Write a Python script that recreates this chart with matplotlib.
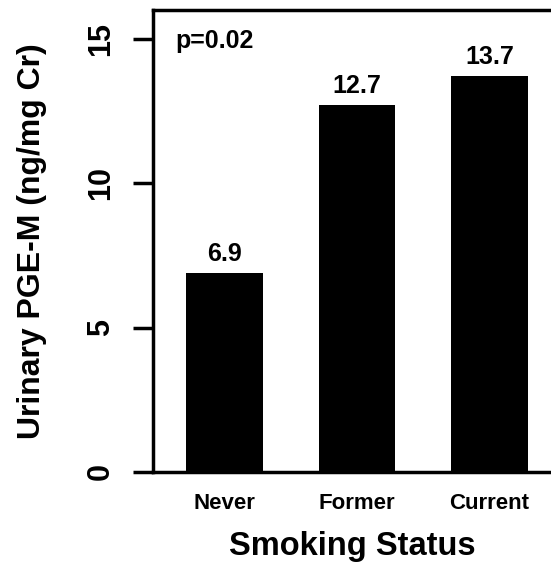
import matplotlib.pyplot as plt

plt.rcParams['font.family'] = ['Liberation Sans', 'DejaVu Sans']
plt.rcParams['font.weight'] = 'bold'

# Urinary PGE-M by smoking status
status = ["Never", "Former", "Current"]
pge_m = [6.9, 12.7, 13.7]
p_text = "p=0.02"

fig = plt.figure(figsize=(5.51, 5.65), dpi=100)
ax = fig.add_axes([153 / 551, 93 / 565, 1 - 153 / 551, 462 / 565])

x = range(len(status))
ax.bar(x, pge_m, width=0.58, color="black")

for xi, v in zip(x, pge_m):
    ax.annotate(f"{v}", (xi, v), xytext=(0, 5), textcoords="offset points",
                ha="center", va="bottom", fontsize=18, fontweight="bold")

ax.text(0.055, 0.918, p_text, transform=ax.transAxes, fontsize=18,
        fontweight="bold", va="baseline", ha="left")

ax.set_xlim(-0.54, 2.464)
ax.set_ylim(0, 16)
ax.set_yticks([0, 5, 10, 15])
ax.set_xticks(list(x))
ax.set_xticklabels(status, fontsize=16, fontweight="bold")
for lab in ax.get_yticklabels():
    lab.set_rotation(90)
    lab.set_va("center")
    lab.set_fontsize(22)
    lab.set_fontweight("bold")

ax.tick_params(axis="y", length=14.5, width=2.5, pad=12)
ax.tick_params(axis="x", length=0, pad=15)

for side in ["left", "bottom", "top"]:
    ax.spines[side].set_linewidth(2.5)
ax.spines["right"].set_visible(False)

ax.set_xlabel("Smoking Status", fontsize=23.5, fontweight="bold", labelpad=12)
ax.set_ylabel("Urinary PGE-M (ng/mg Cr)", fontsize=23, fontweight="bold", labelpad=28)

fig.savefig("out.png", dpi=100)
